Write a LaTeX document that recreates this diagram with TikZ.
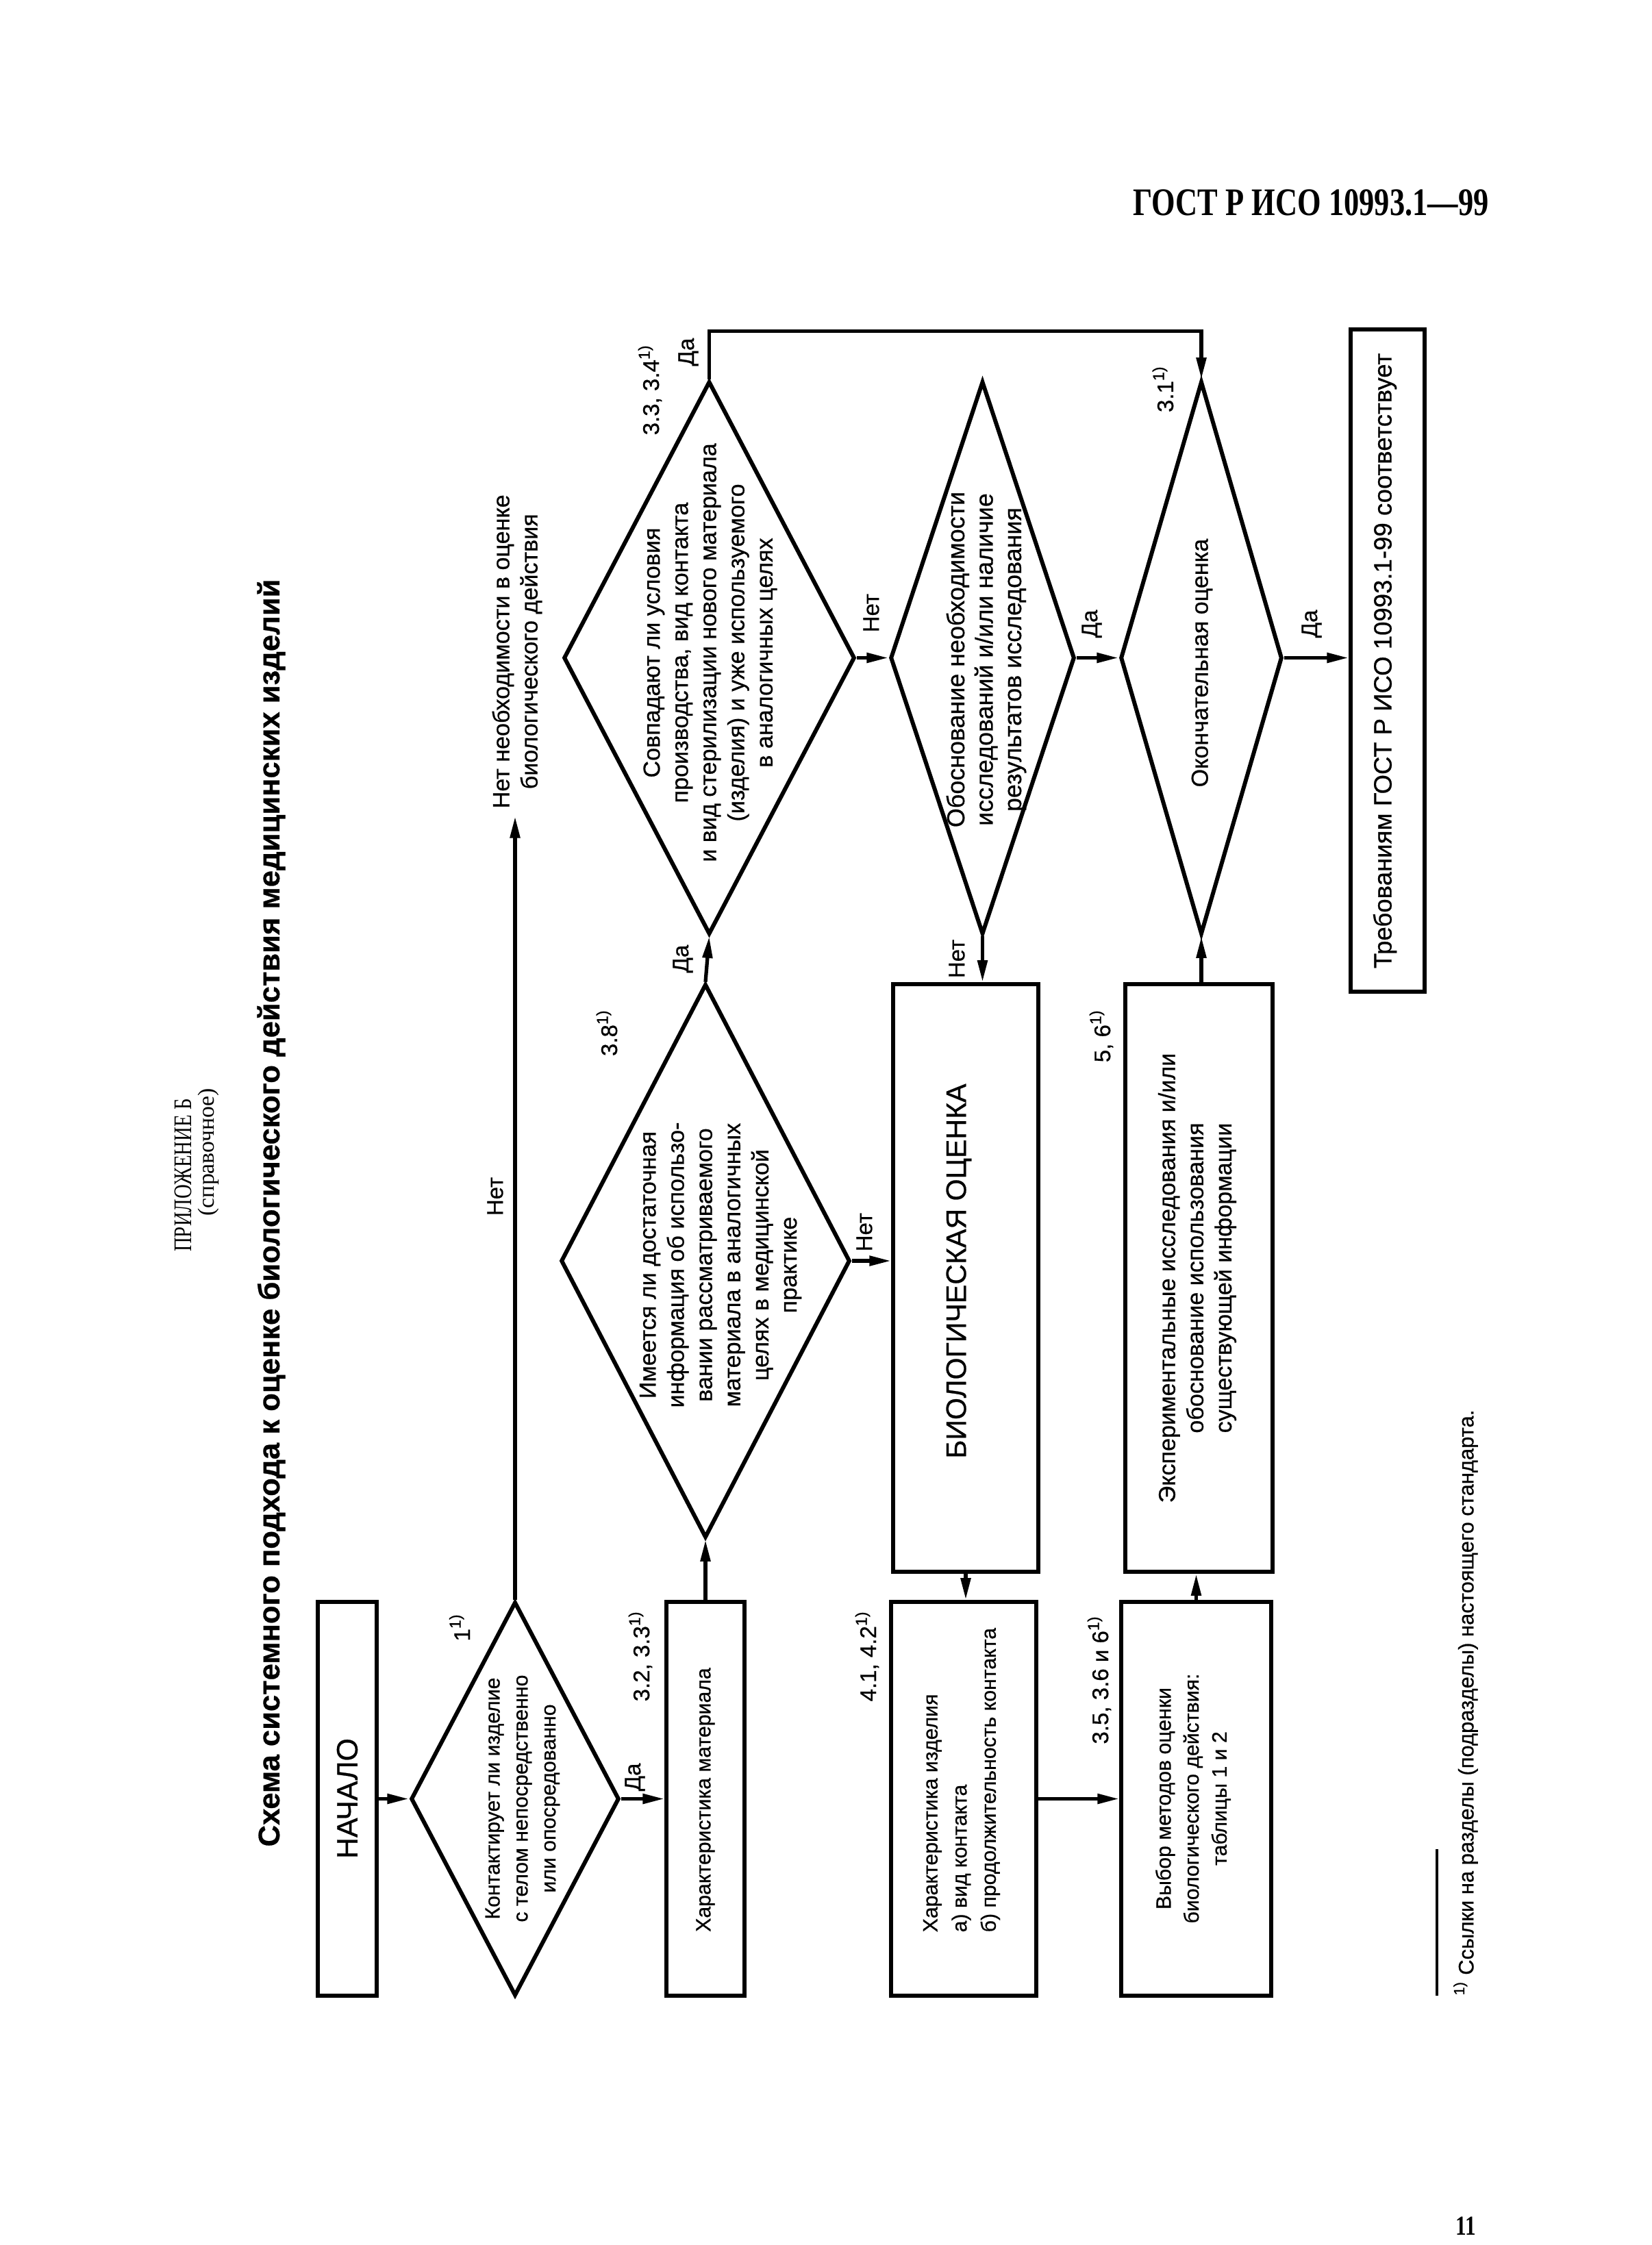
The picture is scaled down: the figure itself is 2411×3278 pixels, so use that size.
\documentclass[tikz,border=0pt]{standalone}
\usepackage{fontspec}
\setmainfont[FakeBold=0.6]{Liberation Sans}
\newfontfamily\serifhdr[FakeStretch=0.78]{Liberation Serif}
\newfontfamily\serifplain{Liberation Serif}
\usetikzlibrary{shapes.geometric,arrows.meta}
\begin{document}
\begin{tikzpicture}[x=0.01cm,y=-0.01cm,
  every node/.style={inner sep=0pt},
  box/.style={draw,line width=1.7pt,rectangle},
  dia/.style={draw,line width=1.7pt,diamond},
  txt/.style={rotate=90,align=center,font=\fontsize{9.7}{11.7}\selectfont},
  smalltxt/.style={rotate=90,align=center,font=\fontsize{8.6}{11.6}\selectfont},
  lbl/.style={rotate=90,font=\fontsize{9.4}{11.7}\selectfont},
  conn/.style={line width=1.5pt},
  arr/.style={conn,-{Triangle[length=9pt,width=4pt]}},
]
\useasboundingbox (0,0) rectangle (2411,3278);

% header
\node[font=\serifhdr\bfseries\fontsize{16.2}{18}\selectfont] (hdr) at (1914,296) {ГОСТ Р ИСО 10993.1—99};
\node[font=\serifhdr\bfseries\fontsize{11.4}{13}\selectfont] (pgno) at (2140,3250) {11};
\node[rotate=90,font=\serifhdr\fontsize{10.5}{12}\selectfont] (app) at (267,1716) {ПРИЛОЖЕНИЕ Б};
\node[rotate=90,font=\serifplain\fontsize{9.6}{11}\selectfont] (appref) at (304,1682) {(справочное)};
\node[rotate=90,font=\bfseries\fontsize{12.4}{14}\selectfont] (title) at (396,1771) {Схема системного подхода к оценке биологического действия медицинских изделий};

% boxes
\node[box,minimum width=0.86cm,minimum height=5.75cm] (nach) at (507,2626.5) {};
\node[box,minimum width=1.14cm,minimum height=5.75cm] (matb) at (1030,2626.5) {};
\node[box,minimum width=2.12cm,minimum height=5.75cm] (devb) at (1407,2626.5) {};
\node[box,minimum width=2.19cm,minimum height=5.75cm] (selb) at (1746.5,2626.5) {};
\node[box,minimum width=2.12cm,minimum height=8.58cm] (bio) at (1410,1866) {};
\node[box,minimum width=2.15cm,minimum height=8.58cm] (expb) at (1750.5,1866) {};
\node[box,minimum width=1.08cm,minimum height=9.67cm] (reqb) at (2026,964.5) {};

% diamonds
\node[dia,minimum width=3.04cm,minimum height=5.75cm] (d1) at (752,2626.5) {};
\node[dia,minimum width=4.22cm,minimum height=8.08cm] (d2) at (1030,1841) {};
\node[dia,minimum width=4.25cm,minimum height=8.07cm] (d3) at (1035.5,960.5) {};
\node[dia,minimum width=2.69cm,minimum height=8.07cm] (d4) at (1434.5,960.5) {};
\node[dia,minimum width=2.36cm,minimum height=8.07cm] (d5) at (1754,960.5) {};

% texts
\node[rotate=90,font=\fontsize{12.2}{14}\selectfont] (nacht) at (507,2626) {НАЧАЛО};
\node[smalltxt] (d1t) at (763,2626) {Контактирует ли изделие\\с телом непосредственно\\или опосредованно};
\node[smalltxt] (matt) at (1030,2628) {Характеристика материала};
\node[txt] (d2t) at (1052,1847) {Имеется ли достаточная\\информация об использо-\\вании рассматриваемого\\материала в аналогичных\\целях в медицинской\\практике};
\node[txt] (d3t) at (1037,953) {Совпадают ли условия\\производства, вид контакта\\и вид стерилизации нового материала\\(изделия) и уже используемого\\в аналогичных целях};
\node[txt,font=\fontsize{10.2}{11.8}\selectfont] (d4t) at (1440,963) {Обоснование необходимости\\исследований и/или наличие\\результатов исследования};
\node[txt] (d5t) at (1755,968) {Окончательная оценка};
\node[txt,font=\fontsize{10.4}{12}\selectfont] (reqt) at (2022,965) {Требованиям ГОСТ Р ИСО 10993.1-99 соответствует};
\node[rotate=90,font=\fontsize{11.7}{14}\selectfont] (biot) at (1400,1856) {БИОЛОГИЧЕСКАЯ ОЦЕНКА};
\node[txt] (expt) at (1748,1866) {Экспериментальные исследования и/или\\обоснование использования\\существующей информации};
\node[smalltxt,align=left,anchor=west,font=\fontsize{8.6}{12.1}\selectfont] (devt) at (1404,2822) {Характеристика изделия\\а) вид контакта\\б) продолжительность контакта};
\node[smalltxt] (selt) at (1742,2626) {Выбор методов оценки\\биологического действия:\\таблицы 1 и 2};

% labels
\node[lbl] (lnet1) at (723,1747) {Нет};
\node[txt,anchor=west] (lneed) at (755,1181) {Нет необходимости в оценке\\биологического действия};
\node[lbl,anchor=east] (l11) at (671,2355) {1\textsuperscript{1)}};
\node[lbl,anchor=west] (lda1) at (927,2616) {Да};
\node[lbl,anchor=east] (l3233) at (935,2351) {3.2, 3.3\textsuperscript{1)}};
\node[lbl,anchor=east] (l38) at (886,1473) {3.8\textsuperscript{1)}};
\node[lbl] (lda2) at (997,1400) {Да};
\node[lbl,anchor=east] (l3334) at (949,502) {3.3, 3.4\textsuperscript{1)}};
\node[lbl] (lda3) at (1005,514) {Да};
\node[lbl,anchor=west] (lnet3) at (1272,924) {Нет};
\node[lbl,anchor=west] (lnet2) at (1262,1828) {Нет};
\node[lbl] (lnet4) at (1397,1400) {Нет};
\node[lbl,anchor=west] (lda4) at (1594,932) {Да};
\node[lbl,anchor=west] (lda5) at (1915,932) {Да};
\node[lbl,anchor=east] (l31) at (1698,533) {3.1\textsuperscript{1)}};
\node[lbl,anchor=east] (l56) at (1608,1473) {5, 6\textsuperscript{1)}};
\node[lbl,anchor=east] (l4142) at (1266,2351) {4.1, 4.2\textsuperscript{1)}};
\node[lbl,anchor=east] (l3536) at (1605,2358) {3.5, 3.6 и 6\textsuperscript{1)}};

% footnote
\draw[line width=0.9pt] (2098,2914) -- (2098,2700);
\node[rotate=90,anchor=west,font=\fontsize{8.8}{10}\selectfont] (fnt) at (2140,2914) {\textsuperscript{1)} Ссылки на разделы (подразделы) настоящего стандарта.};

% connectors
\coordinate (needpt) at (752,1192);
\draw[arr] (nach.east) -- (d1.west);
\draw[arr] (d1.north) -- (d1.north |- needpt);
\draw[arr] (d1.east) -- (matb.west);
\draw[arr] (d2.south |- matb.north) -- (d2.south);
\draw[arr] (d2.east) -- (d2.east -| bio.west);
\draw[arr] (d2.north) -- (d3.south);
\draw[arr] (d3.north) -- ++(0,-70) -| (d5.north);
\draw[arr] (d3.east) -- (d4.west);
\draw[arr] (d4.south) -- (d4.south |- bio.north);
\draw[arr] (bio.south) -- (bio.south |- devb.north);
\draw[arr] (devb.east) -- (selb.west);
\draw[arr] (selb.north) -- (selb.north |- expb.south);
\draw[arr] (d5.south |- expb.north) -- (d5.south);
\draw[arr] (d4.east) -- (d5.west);
\draw[arr] (d5.east) -- (d5.east -| reqb.west);
\end{tikzpicture}
\end{document}
